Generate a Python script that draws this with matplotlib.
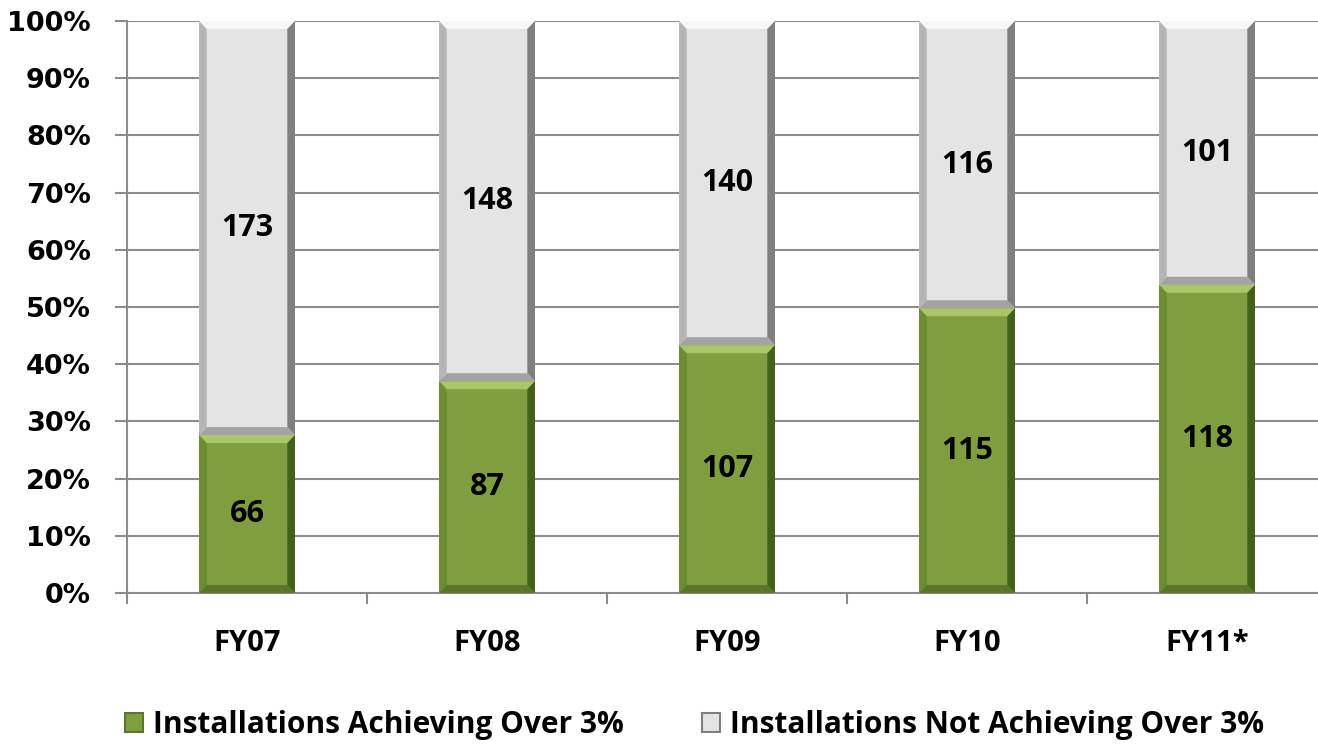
import matplotlib.pyplot as plt
import numpy as np
from matplotlib.patches import Polygon, Patch

# Dados
anos = ['FY07', 'FY08', 'FY09', 'FY10', 'FY11*']
atingindo = np.array([66, 87, 107, 115, 118])
nao_atingindo = np.array([173, 148, 140, 116, 101])
nomes = ['Installations Achieving Over 3%', 'Installations Not Achieving Over 3%']

total = atingindo + nao_atingindo
pct_ating = atingindo / total * 100
pct_nao = nao_atingindo / total * 100

fonte = 'Open Sans'
verde = {'face': '#7f9e40', 'top': '#a9c766', 'left': '#6d8c33', 'right': '#45601c', 'bottom': '#5b7629'}
cinza = {'face': '#e4e4e4', 'top': '#f8f8f8', 'left': '#b5b5b5', 'right': '#7f7f7f', 'bottom': '#a3a3a3'}

fig = plt.figure(figsize=(13.18, 7.5), dpi=100)
ax = fig.add_axes([127 / 1318, 1 - 593 / 750, 1200 / 1318, 572 / 750])

x = np.arange(len(anos))
largura = 0.4


def chanfro(ax, barras, cores, bx=0.032, by=1.4):
    # desenha o efeito de bisel em cada barra
    for r in barras:
        x0, y0 = r.get_x(), r.get_y()
        x1, y1 = x0 + r.get_width(), y0 + r.get_height()
        lados = {
            'top': [(x0, y1), (x1, y1), (x1 - bx, y1 - by), (x0 + bx, y1 - by)],
            'bottom': [(x0, y0), (x1, y0), (x1 - bx, y0 + by), (x0 + bx, y0 + by)],
            'left': [(x0, y0), (x0, y1), (x0 + bx, y1 - by), (x0 + bx, y0 + by)],
            'right': [(x1, y0), (x1, y1), (x1 - bx, y1 - by), (x1 - bx, y0 + by)],
        }
        for nome, pts in lados.items():
            ax.add_patch(Polygon(pts, closed=True, facecolor=cores[nome], edgecolor='none', zorder=3))


b1 = ax.bar(x, pct_ating, largura, color=verde['face'], zorder=2)
b2 = ax.bar(x, pct_nao, largura, bottom=pct_ating, color=cinza['face'], zorder=2)
chanfro(ax, b1, verde)
chanfro(ax, b2, cinza)

for i in range(len(anos)):
    ax.text(x[i], pct_ating[i] / 2, str(atingindo[i]), ha='center', va='center',
            fontsize=22, fontweight='bold', family=fonte, zorder=4)
    ax.text(x[i], pct_ating[i] + pct_nao[i] / 2, str(nao_atingindo[i]), ha='center', va='center',
            fontsize=22, fontweight='bold', family=fonte, zorder=4)

ax.set_xlim(-0.5, len(anos) - 0.5)
ax.set_ylim(0, 100)
ax.set_yticks(np.arange(0, 101, 10))
ax.set_yticklabels([f'{v}%' for v in range(0, 101, 10)], fontsize=19.5, fontweight='bold', family='DejaVu Sans')
ax.yaxis.grid(True, color='#8c8c8c', linewidth=1.5, zorder=0)
ax.set_axisbelow(True)

ax.set_xticks(x)
ax.set_xticklabels(anos, fontsize=21, fontweight='bold', family=fonte)
ax.tick_params(axis='x', length=0, pad=26)
ax.set_xticks(np.arange(-0.5, len(anos)), minor=True)
ax.tick_params(axis='x', which='minor', length=8, width=1.5, color='#8c8c8c', direction='out')
ax.tick_params(axis='y', length=9, width=1.5, color='#8c8c8c', pad=17)

for s in ['top', 'right']:
    ax.spines[s].set_visible(False)
for s in ['left', 'bottom']:
    ax.spines[s].set_color('#8c8c8c')
    ax.spines[s].set_linewidth(1.5)

handles = [Patch(facecolor=verde['face'], edgecolor=verde['bottom'], linewidth=1.5),
           Patch(facecolor=cinza['face'], edgecolor=cinza['right'], linewidth=1.5)]
fig.legend(handles, nomes, loc='center', bbox_to_anchor=(0.527, 1 - 725 / 750), ncol=2, frameon=False,
           prop={'family': fonte, 'weight': 'bold', 'size': 21.5},
           handlelength=0.6, handleheight=0.6, handletextpad=0.35, columnspacing=2.6)

fig.savefig('out.png', dpi=100)
